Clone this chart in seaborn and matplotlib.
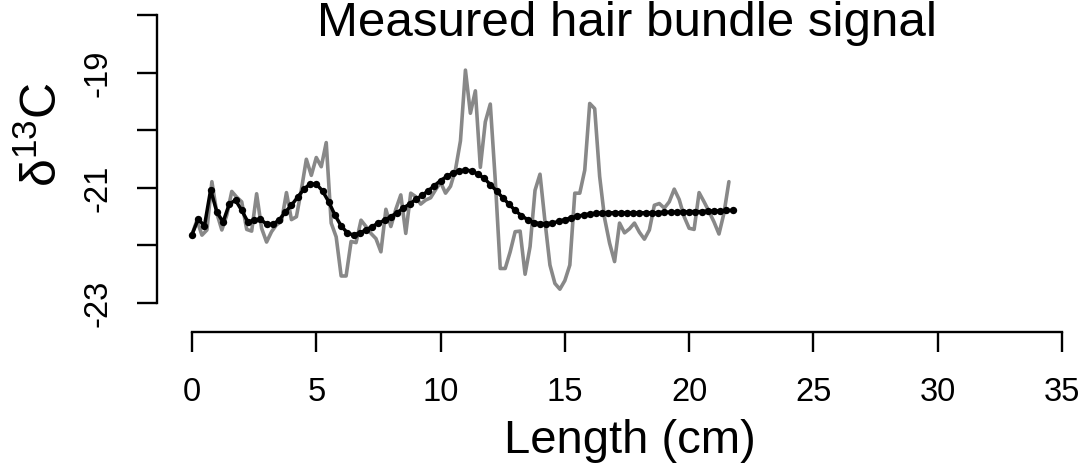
import numpy as np
import pandas as pd
import matplotlib
matplotlib.use("Agg")
import matplotlib.pyplot as plt
import seaborn as sns

# ---------------- data ----------------
raw_step = 0.2
raw_values = [
    -21.81, -21.56, -21.82, -21.73, -20.89, -21.44, -21.73, -21.47, -21.06, -21.16,
    -21.24, -21.72, -21.75, -21.10, -21.70, -21.94, -21.76, -21.64, -21.58, -21.08,
    -21.55, -21.50, -21.03, -20.50, -20.78, -20.47, -20.63, -20.21, -21.61, -21.85,
    -22.53, -22.53, -21.93, -21.95, -21.56, -21.67, -21.79, -21.88, -22.11, -21.37,
    -21.67, -21.37, -21.12, -21.79, -21.09, -21.15, -21.28, -21.21, -21.17, -21.03,
    -20.90, -21.09, -20.97, -20.68, -20.18, -18.95, -19.70, -19.31, -20.64, -19.85,
    -19.54, -20.86, -22.40, -22.40, -22.11, -21.76, -21.75, -22.50, -22.02, -21.04,
    -20.76, -21.58, -22.34, -22.66, -22.76, -22.61, -22.34, -21.09, -21.09, -20.69,
    -19.53, -19.62, -20.80, -21.53, -21.96, -22.28, -21.61, -21.78, -21.71, -21.61,
    -21.77, -21.89, -21.73, -21.30, -21.27, -21.35, -21.24, -21.02, -21.20, -21.50,
    -21.70, -21.72, -21.08, -21.24, -21.41, -21.59, -21.80, -21.44, -20.89,
]
raw_length = [round(i * raw_step, 2) for i in range(len(raw_values))]

model_step = 0.25
model_values = [
    -21.81, -21.54, -21.66, -21.03, -21.42, -21.59, -21.28, -21.21, -21.39, -21.59,
    -21.56, -21.54, -21.63, -21.63, -21.56, -21.42, -21.30, -21.16, -21.02, -20.93,
    -20.93, -21.05, -21.24, -21.47, -21.66, -21.78, -21.82, -21.78, -21.73, -21.67,
    -21.61, -21.56, -21.50, -21.43, -21.35, -21.28, -21.20, -21.13, -21.05, -20.96,
    -20.87, -20.80, -20.74, -20.70, -20.69, -20.70, -20.76, -20.83, -20.94, -21.05,
    -21.17, -21.28, -21.39, -21.48, -21.55, -21.60, -21.62, -21.62, -21.61, -21.58,
    -21.55, -21.52, -21.49, -21.47, -21.45, -21.44, -21.43, -21.43, -21.43, -21.43,
    -21.43, -21.43, -21.43, -21.43, -21.43, -21.43, -21.42, -21.42, -21.42, -21.42,
    -21.41, -21.41, -21.41, -21.40, -21.40, -21.40, -21.39, -21.39,
]
model_length = [round(i * model_step, 2) for i in range(len(model_values))]

x_ticks = [0, 5, 10, 15, 20, 25, 30, 35]
y_ticks = [-23, -22, -21, -20, -19, -18]
y_tick_labels = ["-23", "", "-21", "", "-19", ""]

title_text = "Measured hair bundle signal"
x_label = "Length (cm)"
y_label = r"δ$^{\mathregular{13}}$C"

raw_df = pd.DataFrame({"length": raw_length, "d13C": raw_values})
model_df = pd.DataFrame({"length": model_length, "d13C": model_values})

# ---------------- style ----------------
sns.set_style("ticks")
plt.rcParams["font.family"] = ["Liberation Sans", "DejaVu Sans"]
plt.rcParams["mathtext.fontset"] = "custom"
plt.rcParams["mathtext.rm"] = "Liberation Sans"
plt.rcParams["mathtext.it"] = "Liberation Sans:italic"
plt.rcParams["mathtext.bf"] = "Liberation Sans:bold"
plt.rcParams["text.color"] = "black"
plt.rcParams["xtick.color"] = "black"
plt.rcParams["ytick.color"] = "black"
plt.rcParams["axes.edgecolor"] = "black"

W, H = 1084, 474
fig = plt.figure(figsize=(W / 100, H / 100), dpi=100)

# pixel geometry of the plotting region
px0, px35 = 192.0, 1062.0
ppx = (px35 - px0) / 35.0
py_m21, ppy = 188.0, 57.5
left_px, bottom_px = 157.0, 332.0
xmin = (left_px - px0) / ppx
xmax = (W - px0) / ppx
ymin = -21 - (bottom_px - py_m21) / ppy
ymax = -21 + py_m21 / ppy

ax = fig.add_axes([left_px / W, (H - bottom_px) / H, (W - left_px) / W, bottom_px / H])
ax.set_facecolor("white")

sns.lineplot(data=raw_df, x="length", y="d13C", ax=ax, color="#888888",
             linewidth=2.6, sort=False, estimator=None)
sns.lineplot(data=model_df, x="length", y="d13C", ax=ax, color="black",
             linewidth=2.5, marker="o", markersize=5.3, markeredgewidth=0,
             sort=False, estimator=None)

ax.set_xlim(xmin, xmax)
ax.set_ylim(ymin, ymax)
ax.set_xlabel("")
ax.set_ylabel("")

for s in ["top", "right"]:
    ax.spines[s].set_visible(False)
ax.spines["left"].set_bounds(-23, -18)
ax.spines["bottom"].set_bounds(0, 35)
for s in ["left", "bottom"]:
    ax.spines[s].set_linewidth(1.7)
    ax.spines[s].set_color("black")

ax.set_xticks(x_ticks)
ax.set_xticklabels([str(t) for t in x_ticks])
ax.set_yticks(y_ticks)
ax.set_yticklabels(y_tick_labels)
ax.tick_params(axis="both", length=14.5, width=1.7, color="black", labelsize=23.5,
               labelcolor="black", direction="out")
ax.tick_params(axis="x", pad=18)
ax.tick_params(axis="y", pad=17)
for lab in ax.get_yticklabels():
    lab.set_rotation(90)
    lab.set_va("center")
    lab.set_ha("right")

fig.text(627 / W, 1 - 36 / H, title_text, ha="center", va="baseline", fontsize=35.5,
         color="black")
fig.text(630 / W, 1 - 441 / H, x_label, ha="center", va="center", fontsize=34,
         color="black")
fig.text(43 / W, 1 - 135 / H, y_label, ha="center", va="center", rotation=90,
         fontsize=36, color="black")

fig.savefig("out.png", dpi=100, facecolor="white")
